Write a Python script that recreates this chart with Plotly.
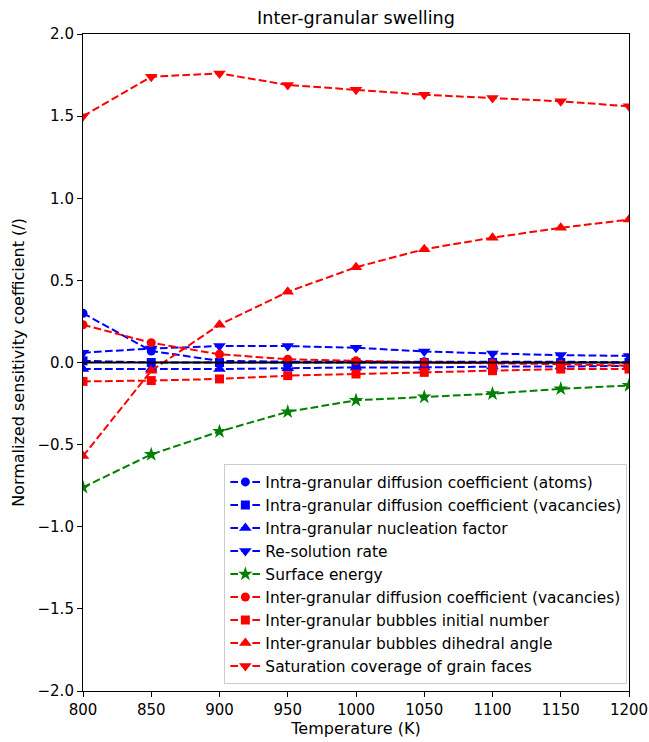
import plotly.graph_objects as go

# Temperatures (K)
temperature = [800, 850, 900, 950, 1000, 1050, 1100, 1150, 1200]

# Normalized sensitivity coefficients of the inter-granular swelling
intra_diff_atoms = [0.30, 0.07, 0.01, 0.005, 0.005, 0.005, 0.005, 0.005, 0.0]
intra_diff_vacancies = [0.01, 0.0, 0.0, 0.0, 0.0, 0.0, 0.0, 0.0, 0.0]
intra_nucleation = [-0.04, -0.04, -0.04, -0.035, -0.03, -0.03, -0.025, -0.025, -0.02]
resolution_rate = [0.06, 0.085, 0.10, 0.10, 0.09, 0.067, 0.055, 0.045, 0.04]
surface_energy = [-0.76, -0.56, -0.42, -0.30, -0.23, -0.21, -0.19, -0.16, -0.14]
inter_diff_vacancies = [0.23, 0.12, 0.05, 0.02, 0.01, 0.0, -0.005, -0.01, -0.02]
inter_bubbles_number = [-0.115, -0.11, -0.10, -0.08, -0.07, -0.06, -0.05, -0.04, -0.04]
inter_dihedral_angle = [-0.57, -0.05, 0.23, 0.43, 0.58, 0.69, 0.76, 0.82, 0.87]
saturation_coverage = [1.50, 1.74, 1.76, 1.69, 1.66, 1.63, 1.61, 1.59, 1.56]

series = [
    ("Intra-granular diffusion coefficient (atoms)", intra_diff_atoms, "blue", "circle"),
    ("Intra-granular diffusion coefficient (vacancies)", intra_diff_vacancies, "blue", "square"),
    ("Intra-granular nucleation factor", intra_nucleation, "blue", "triangle-up"),
    ("Re-solution rate", resolution_rate, "blue", "triangle-down"),
    ("Surface energy", surface_energy, "green", "star"),
    ("Inter-granular diffusion coefficient (vacancies)", inter_diff_vacancies, "red", "circle"),
    ("Inter-granular bubbles initial number", inter_bubbles_number, "red", "square"),
    ("Inter-granular bubbles dihedral angle", inter_dihedral_angle, "red", "triangle-up"),
    ("Saturation coverage of grain faces", saturation_coverage, "red", "triangle-down"),
]

MARKER_SIZE = {"circle": 9, "square": 9, "triangle-up": 11, "triangle-down": 11, "star": 11}

FONT = "DejaVu Sans"
TICK_SIZE = 15
TEXT_SIZE = 16

fig = go.Figure()
for i, (name, values, color, symbol) in enumerate(series):
    fig.add_trace(go.Scatter(
        x=temperature, y=values, name=name, mode="lines+markers",
        line=dict(color=color, width=2, dash="7.7px,3.3px"),
        marker=dict(symbol=symbol, size=MARKER_SIZE[symbol],
                    color=color, line=dict(width=0)),
        legendgroup=f"g{i}",
    ))

# zero reference line
fig.add_trace(go.Scatter(
    x=[temperature[0], temperature[-1]], y=[0, 0], mode="lines",
    line=dict(color="black", width=2.2), showlegend=False, hoverinfo="skip",
))

axis_common = dict(
    showgrid=False, zeroline=False, showline=True, linecolor="black",
    linewidth=1.1, mirror=True, ticks="outside", ticklen=5, tickwidth=1.1,
    tickcolor="black", automargin=False,
    tickfont=dict(family=FONT, size=TICK_SIZE, color="black"),
)

L, R, T, B = 83, 20, 34, 51
fig.update_layout(
    width=649, height=742,
    margin=dict(l=L, r=R, t=T, b=B),
    paper_bgcolor="white", plot_bgcolor="white",
    font=dict(family=FONT, color="black"),
    title=dict(text="Inter-granular swelling", x=(L + 649 - R) / 2 / 649,
               xanchor="center", y=1 - 18 / 742, yanchor="middle",
               font=dict(family=FONT, size=17.6, color="black")),
    xaxis=dict(range=[800, 1200], dtick=50, tick0=800,
               title=dict(text="Temperature (K)", standoff=4,
                          font=dict(family=FONT, size=TEXT_SIZE)),
               **axis_common),
    yaxis=dict(range=[-2, 2], dtick=0.5, tick0=-2, tickformat=".1f",
               title=dict(text="Normalized sensitivity coefficient (/)", standoff=8,
                          font=dict(family=FONT, size=TEXT_SIZE)),
               **axis_common),
    legend=dict(x=0.997, xanchor="right", y=0.01, yanchor="bottom",
                bgcolor="white", bordercolor="#cccccc", borderwidth=1,
                font=dict(family=FONT, size=15.4), tracegroupgap=0,
                itemwidth=30),
    showlegend=True,
)

fig.write_html("out.html")
